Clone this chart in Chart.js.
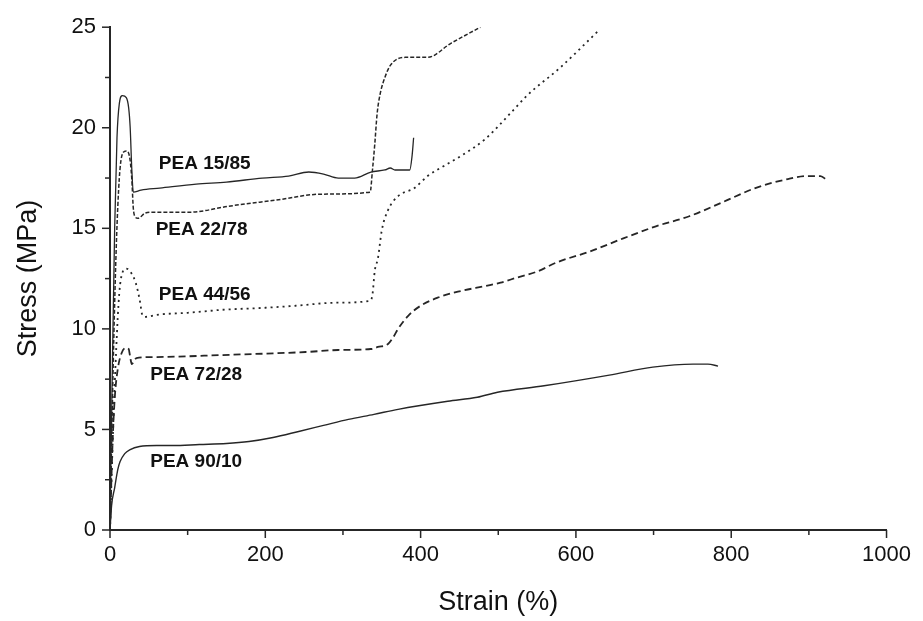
<!DOCTYPE html>
<html>
<head>
<meta charset="utf-8">
<script src="https://cdn.jsdelivr.net/npm/chart.js@4/dist/chart.umd.min.js"></script>
<style>
  html, body { margin: 0; padding: 0; background: #fff; }
  #wrap { width: 923px; height: 621px; }
</style>
</head>
<body>
<div id="wrap"><canvas id="graph" width="923" height="621"></canvas></div>
<script>
// strain (%) / stress (MPa) pairs
const pea1585 = [[0,0],[3,8],[6,15],[9,19.5],[12,21.2],[16,21.6],[21,21.5],[24,21.0],[26,20.0],[28,18.0],[30,16.8],[40,16.9],[64,17.0],[111,17.2],[150,17.3],[196,17.5],[230,17.6],[256,17.8],[275,17.7],[294,17.5],[315,17.5],[336,17.8],[354,17.9],[361,18.0],[367,17.9],[386,17.9],[389,18.6],[391,19.5]];
const pea2278 = [[0,0],[4,8],[8,14],[12,17.5],[16,18.7],[21,18.85],[25,18.6],[28,17.5],[30,16.0],[32,15.6],[36,15.5],[45,15.75],[55,15.8],[102,15.8],[153,16.1],[213,16.4],[273,16.7],[335,16.8],[338,17.9],[341,19.2],[344,20.7],[348,21.7],[354,22.5],[361,23.1],[380,23.5],[409,23.5],[439,24.2],[477,25.0]];
const pea4456 = [[0,0],[4,5],[8,9],[12,11.8],[16,12.8],[21,13.0],[27,12.8],[33,12.3],[38,11.5],[42,10.65],[46,10.6],[60,10.7],[100,10.8],[145,10.95],[200,11.05],[239,11.15],[290,11.3],[335,11.4],[338,11.7],[341,12.9],[345,13.5],[350,14.9],[358,15.9],[371,16.6],[392,17.0],[409,17.6],[430,18.1],[452,18.6],[482,19.4],[520,20.9],[537,21.6],[580,23.0],[631,24.9]];
const pea7228 = [[0,0],[3,4],[6,6.5],[10,8.0],[15,8.8],[20,9.05],[24,9.0],[26,8.6],[28,8.25],[31,8.4],[34,8.55],[60,8.6],[145,8.7],[252,8.85],[294,8.95],[336,9.0],[345,9.1],[358,9.25],[365,9.6],[371,10.0],[384,10.65],[400,11.15],[422,11.55],[448,11.85],[486,12.15],[503,12.3],[524,12.55],[550,12.85],[575,13.3],[618,13.85],[661,14.5],[703,15.1],[746,15.6],[789,16.3],[831,17.0],[873,17.45],[899,17.6],[915,17.6],[923,17.4]];
const pea9010 = [[0,0],[2,1.2],[6,2.1],[10,3.0],[13,3.4],[19,3.8],[26,4.0],[38,4.15],[60,4.2],[81,4.2],[115,4.25],[150,4.3],[179,4.4],[210,4.6],[243,4.9],[275,5.2],[307,5.5],[340,5.75],[371,6.0],[435,6.4],[473,6.6],[499,6.85],[559,7.17],[643,7.7],[699,8.1],[751,8.25],[770,8.25],[783,8.15]];

const seriesNames = ["PEA 15/85","PEA 22/78","PEA 44/56","PEA 72/28","PEA 90/10"];
// where each name sits, in data units (strain, stress)
const labelAt = [[122,18.2],[118,14.95],[122,11.68],[111,7.73],[111,3.40]];

const xTicks = [0,200,400,600,800,1000];
const yTicks = [0,5,10,15,20,25];

const toXY = arr => arr.map(p => ({x: p[0], y: p[1]}));
const ink = '#262626';
const fam = '"Liberation Sans", Arial, sans-serif';

// axis ticks: major with labels, minor half-way
const tickPlugin = {
  id: 'ticks',
  afterDraw(chart) {
    const ctx = chart.ctx, xs = chart.scales.x, ys = chart.scales.y;
    const ca = chart.chartArea;
    ctx.save();
    ctx.strokeStyle = ink;
    ctx.lineWidth = 1.5;
    for (let v = 0; v <= 1000; v += 100) {
      const px = xs.getPixelForValue(v);
      const len = (v % 200 === 0) ? 8 : 5;
      ctx.beginPath(); ctx.moveTo(px, ca.bottom); ctx.lineTo(px, ca.bottom + len); ctx.stroke();
    }
    for (let v = 0; v <= 25; v += 2.5) {
      const py = ys.getPixelForValue(v);
      const len = (v % 5 === 0) ? 8 : 5;
      ctx.beginPath(); ctx.moveTo(ca.left, py); ctx.lineTo(ca.left - len, py); ctx.stroke();
    }
    // series names
    ctx.fillStyle = '#111';
    ctx.font = 'bold 19px ' + fam;
    ctx.textAlign = 'center';
    ctx.textBaseline = 'middle';
    seriesNames.forEach((n, i) => {
      ctx.fillText(n, xs.getPixelForValue(labelAt[i][0]), ys.getPixelForValue(labelAt[i][1]));
    });
    ctx.restore();
  }
};

const mkSet = (name, pts, dash, w) => ({
  label: name,
  data: toXY(pts),
  showLine: true,
  borderColor: ink,
  borderWidth: w,
  borderDash: dash,
  pointRadius: 0,
  fill: false,
  cubicInterpolationMode: 'monotone'
});

new Chart(document.getElementById('graph'), {
  type: 'scatter',
  data: {
    datasets: [
      mkSet(seriesNames[0], pea1585, [], 1.3),
      mkSet(seriesNames[1], pea2278, [4, 2], 1.5),
      mkSet(seriesNames[2], pea4456, [2, 4], 1.8),
      mkSet(seriesNames[3], pea7228, [7, 4], 1.8),
      mkSet(seriesNames[4], pea9010, [], 1.4)
    ]
  },
  options: {
    responsive: false,
    animation: false,
    layout: { padding: { left: 0, right: 31, top: 22, bottom: 0 } },
    plugins: { legend: { display: false }, tooltip: { enabled: false } },
    scales: {
      x: {
        type: 'linear', min: 0, max: 1000,
        afterBuildTicks: s => { s.ticks = xTicks.map(v => ({value: v})); },
        afterFit: s => { s.height = 91; },
        grid: { display: false, drawTicks: false },
        border: { display: true, color: ink, width: 2 },
        ticks: { color: '#111', padding: 12, maxRotation: 0, callback: v => String(v), font: { family: fam, size: 22 } },
        title: { display: true, text: 'Strain (%)', color: '#111', padding: { top: 0, bottom: 2 }, font: { family: fam, size: 27 } }
      },
      y: {
        type: 'linear', min: 0, max: 25,
        afterBuildTicks: s => { s.ticks = yTicks.map(v => ({value: v})); },
        afterFit: s => { s.width = 110; },
        grid: { display: false, drawTicks: false },
        border: { display: true, color: ink, width: 2 },
        ticks: { color: '#111', padding: 14, callback: v => String(v), font: { family: fam, size: 22 } },
        title: { display: true, text: 'Stress (MPa)', color: '#111', padding: { top: 12, bottom: 0 }, font: { family: fam, size: 27 } }
      }
    }
  },
  plugins: [tickPlugin]
});
</script>
</body>
</html>
